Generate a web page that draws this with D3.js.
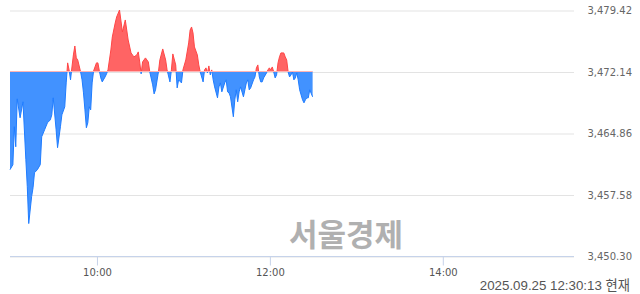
<!DOCTYPE html>
<html>
<head>
<meta charset="utf-8">
<script src="https://cdn.jsdelivr.net/npm/d3@7"></script>
<style>
  html, body { margin: 0; padding: 0; background: #fff; }
  svg { display: block; }
</style>
</head>
<body>
<div id="chart"></div>
<script>
// KOSPI intraday, 2025.09.25
const times = [
  "09:00","09:02","09:03","09:04","09:05","09:07","09:09","09:11","09:12","09:13",
  "09:15","09:16","09:17","09:19","09:21","09:22","09:24","09:26","09:28","09:29",
  "09:30","09:32","09:33","09:35","09:36","09:38","09:39","09:40","09:41","09:42",
  "09:43","09:44","09:45","09:46","09:47","09:49","09:50","09:51","09:52","09:53",
  "09:54","09:55","09:56","09:57","09:58","10:00","10:01","10:02","10:03","10:04",
  "10:06","10:07","10:08","10:10","10:11","10:13","10:14","10:16","10:18","10:20",
  "10:22","10:24","10:26","10:28","10:29","10:30","10:31","10:32","10:34","10:36",
  "10:37","10:39","10:40","10:41","10:43","10:44","10:46","10:48","10:49","10:51",
  "10:52","10:53","10:55","10:56","10:57","10:59","11:00","11:02","11:04","11:05",
  "11:06","11:07","11:08","11:10","11:11","11:12","11:14","11:15","11:16","11:17",
  "11:18","11:19","11:20","11:21","11:22","11:24","11:25","11:26","11:27","11:29",
  "11:30","11:31","11:32","11:33","11:35","11:36","11:37","11:38","11:39","11:40",
  "11:42","11:43","11:44","11:45","11:46","11:47","11:49","11:50","11:51","11:52",
  "11:53","11:54","11:55","11:56","11:58","11:59","12:00","12:01","12:02","12:03",
  "12:04","12:05","12:06","12:07","12:08","12:10","12:11","12:12","12:13","12:14",
  "12:15","12:16","12:17","12:18","12:19","12:20","12:21","12:23","12:24","12:25",
  "12:26","12:27","12:28","12:30"
];
const values = [
  3460.52,3461.11,3465.60,3463.23,3468.90,3466.66,3468.55,3461.70,3458.51,3454.14,
  3457.33,3458.39,3460.16,3460.52,3461.11,3464.41,3465.24,3466.07,3466.42,3467.01,
  3469.02,3465.24,3463.12,3465.60,3467.01,3467.96,3470.79,3473.16,3472.33,3471.15,
  3472.68,3474.10,3475.16,3473.75,3473.51,3472.09,3471.15,3469.61,3467.60,3465.48,
  3466.07,3467.96,3467.60,3470.79,3472.21,3473.16,3473.16,3472.21,3471.38,3470.91,
  3471.50,3471.86,3472.33,3474.69,3476.23,3477.88,3478.59,3479.42,3476.82,3478.24,
  3475.87,3474.34,3473.87,3474.10,3474.46,3473.27,3471.86,3473.27,3473.75,3473.27,
  3472.09,3470.56,3469.49,3469.97,3472.09,3473.51,3474.81,3473.51,3472.33,3470.91,
  3472.33,3474.22,3472.92,3470.20,3471.15,3470.79,3472.33,3473.51,3475.52,3477.05,
  3477.41,3476.70,3475.05,3474.10,3472.92,3472.09,3470.91,3472.33,3472.57,3471.97,
  3472.80,3471.74,3472.33,3471.15,3470.32,3469.02,3470.32,3470.79,3469.73,3470.79,
  3471.15,3469.73,3469.61,3469.14,3466.78,3468.79,3469.97,3468.55,3469.73,3470.32,
  3469.14,3469.97,3470.79,3471.15,3469.97,3470.20,3471.15,3471.50,3472.57,3472.92,
  3471.50,3470.91,3470.91,3471.38,3471.97,3472.33,3472.57,3472.33,3472.68,3472.09,
  3471.38,3471.74,3473.16,3473.87,3474.34,3474.34,3473.87,3473.51,3472.09,3471.50,
  3471.74,3472.09,3471.15,3471.38,3471.97,3471.15,3469.97,3468.79,3468.43,3468.79,
  3469.02,3469.02,3469.97,3469.14
];
const prevClose = 3472.14;
const yTicks = [3450.30, 3457.58, 3464.86, 3472.14, 3479.42];
const xTicks = ["10:00", "12:00", "14:00"];
const sessionStart = "09:00";
const sessionEnd = "15:30";
const stamp = "2025.09.25 12:30:13 현재";
const watermark = "서울경제";

const width = 640;
const height = 294;

const parse = d3.timeParse("%H:%M");
const data = times.map((t, i) => ({ t: parse(t), v: values[i] }));

const x = d3.scaleTime()
  .domain([parse(sessionStart), parse(sessionEnd)])
  .range([10, 572]);

const y = d3.scaleLinear()
  .domain([yTicks[0], yTicks[yTicks.length - 1]])
  .range([256, 10]);

const svg = d3.select("#chart")
  .append("svg")
  .attr("width", width)
  .attr("height", height);

// gridlines + right labels
const gy = svg.append("g")
  .attr("transform", "translate(574,0.5)")
  .call(d3.axisRight(y)
    .tickValues(yTicks)
    .tickSize(-564)
    .tickPadding(58)
    .tickFormat(d3.format(",.2f")));
gy.select(".domain").remove();
gy.selectAll(".tick line").attr("stroke", "#e3e3e3");
gy.selectAll(".tick text")
  .attr("text-anchor", "end")
  .attr("fill", "#666")
  .style("font-family", "'DejaVu Sans', sans-serif")
  .style("font-size", "10px");

// watermark
svg.append("text")
  .attr("x", 346)
  .attr("y", 246)
  .attr("text-anchor", "middle")
  .attr("fill", "#b0b0b0")
  .style("font-family", "'Noto Sans CJK KR', sans-serif")
  .style("font-weight", "bold")
  .style("font-size", "31px")
  .text(watermark);

// bottom axis
const baseY = Math.round(y(yTicks[0])) + 0.5;
svg.append("line")
  .attr("x1", 10).attr("x2", 574)
  .attr("y1", baseY).attr("y2", baseY)
  .attr("stroke", "#c6d3ea");

const gx = svg.append("g")
  .attr("transform", `translate(0.5,${baseY})`)
  .call(d3.axisBottom(x)
    .tickValues(xTicks.map(parse))
    .tickSize(9)
    .tickPadding(3)
    .tickSizeOuter(0)
    .tickFormat(d3.timeFormat("%H:%M")));
gx.select(".domain").remove();
gx.selectAll(".tick line").attr("stroke", "#c6d3ea");
gx.selectAll(".tick text")
  .attr("fill", "#555")
  .style("font-family", "'DejaVu Sans', sans-serif")
  .style("font-size", "10px");

// area split at previous close
const y0 = y(prevClose);
const defs = svg.append("defs");
defs.append("clipPath").attr("id", "clip-up")
  .append("rect").attr("x", 0).attr("y", 0).attr("width", width).attr("height", y0);
defs.append("clipPath").attr("id", "clip-down")
  .append("rect").attr("x", 0).attr("y", y0).attr("width", width).attr("height", height - y0);

const area = d3.area()
  .x(d => x(d.t))
  .y0(y0)
  .y1(d => y(d.v));

const line = d3.line()
  .x(d => x(d.t))
  .y(d => y(d.v));

svg.append("path")
  .datum(data)
  .attr("clip-path", "url(#clip-up)")
  .attr("fill", "#ff6464")
  .attr("d", area);
svg.append("path")
  .datum(data)
  .attr("clip-path", "url(#clip-down)")
  .attr("fill", "#4292ff")
  .attr("d", area);
svg.append("path")
  .datum(data)
  .attr("clip-path", "url(#clip-up)")
  .attr("fill", "none")
  .attr("stroke", "#ff4646")
  .attr("stroke-width", 1)
  .attr("d", line);
svg.append("path")
  .datum(data)
  .attr("clip-path", "url(#clip-down)")
  .attr("fill", "none")
  .attr("stroke", "#1f7cff")
  .attr("stroke-width", 1)
  .attr("d", line);

// previous close line over the data span
svg.append("line")
  .attr("x1", x(data[0].t)).attr("x2", x(data[data.length - 1].t))
  .attr("y1", y0).attr("y2", y0)
  .attr("stroke", "#ffb4b4")
  .attr("stroke-width", 1);

// time stamp
svg.append("text")
  .attr("x", 630)
  .attr("y", 290)
  .attr("text-anchor", "end")
  .attr("fill", "#555")
  .style("font-family", "'Liberation Sans', 'Noto Sans CJK KR', sans-serif")
  .style("font-size", "13.3px")
  .text(stamp);
</script>
</body>
</html>
